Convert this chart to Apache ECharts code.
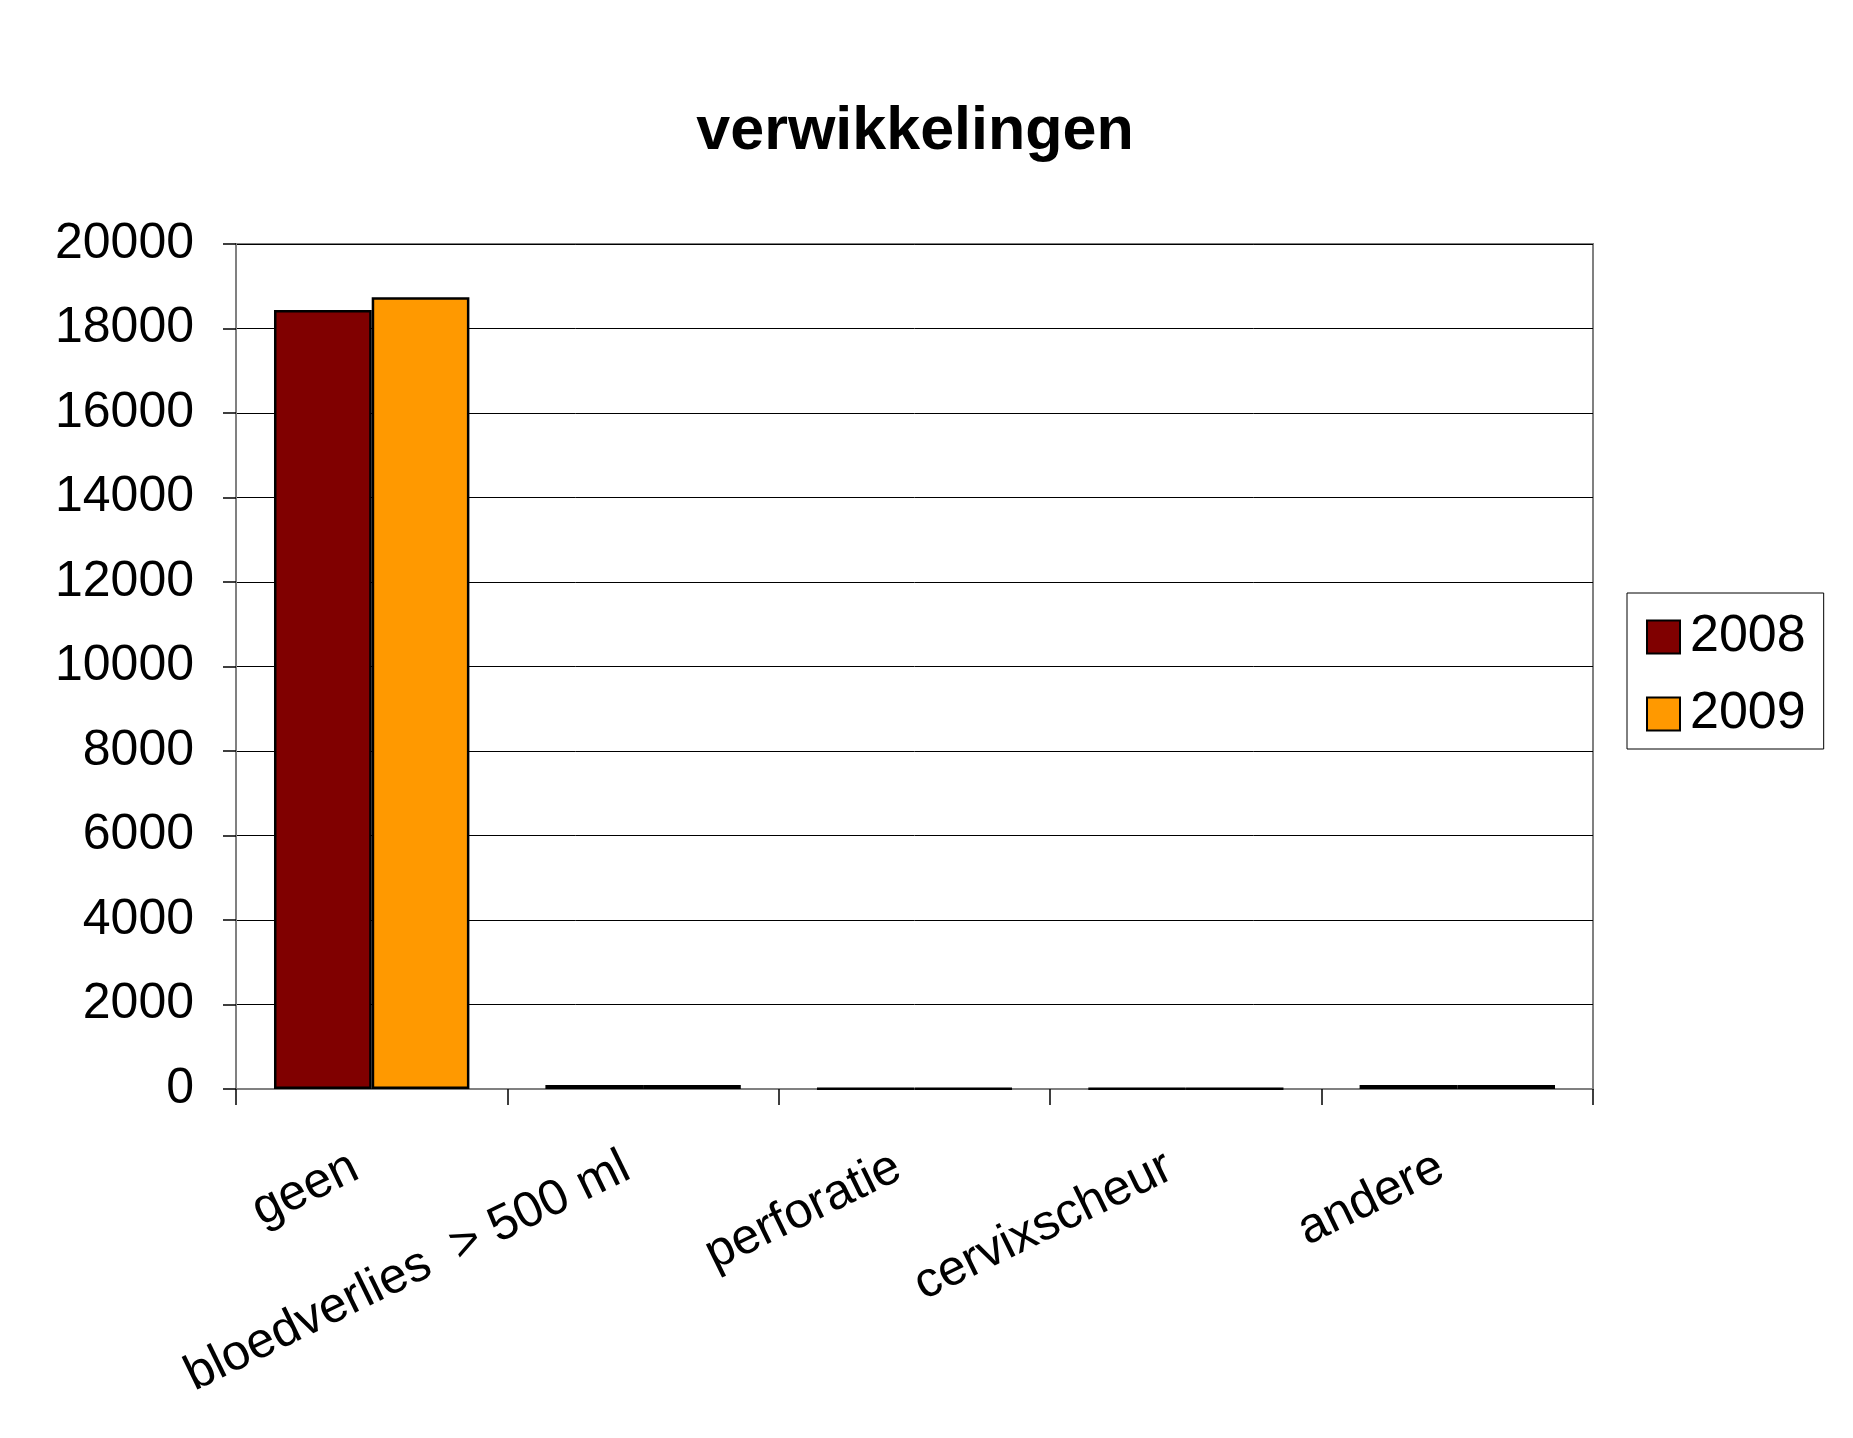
<!DOCTYPE html>
<html>
<head>
<meta charset="utf-8">
<script src="https://cdn.jsdelivr.net/npm/echarts@6/dist/echarts.min.js"></script>
<style>
html,body{margin:0;padding:0;background:#fff;}
#c{width:1853px;height:1438px;}
</style>
</head>
<body>
<div id="c"></div>
<script>
const titleText = 'verwikkelingen';
const categories = ['geen', 'bloedverlies  > 500 ml', 'perforatie', 'cervixscheur', 'andere'];
const seriesNames = ['2008', '2009'];
const values2008 = [18440, 95, 8, 6, 95];
const values2009 = [18740, 95, 8, 6, 95];
const yMin = 0, yMax = 20000, yStep = 2000;

const FONT = '"Liberation Sans", Arial, sans-serif';
const chart = echarts.init(document.getElementById('c'));
chart.setOption({
  backgroundColor: '#ffffff',
  animation: false,
  title: {
    text: titleText,
    left: 910,
    top: 97,
    textAlign: 'center',
    textStyle: { fontFamily: FONT, fontWeight: 'bold', fontSize: 61, color: '#000' }
  },
  legend: {
    orient: 'vertical',
    left: 1627,
    top: 593,
    padding: [18, 18, 9, 19],
    borderColor: '#000',
    borderWidth: 1,
    itemWidth: 33,
    itemHeight: 33,
    itemGap: 25,
    icon: 'rect',
    textStyle: { fontFamily: FONT, fontSize: 52, color: '#000', padding: [0, 0, 0, 5] },
    data: seriesNames
  },
  grid: {
    left: 236, top: 244, width: 1357, height: 845,
    show: true, borderColor: '#808080', borderWidth: 2, backgroundColor: '#fff'
  },
  xAxis: {
    type: 'category',
    data: categories,
    axisLine: { show: true, lineStyle: { color: '#808080', width: 2 } },
    axisTick: { show: true, length: 16, lineStyle: { color: '#000', width: 1.5 } },
    axisLabel: {
      rotate: 26, margin: 68, interval: 0,
      fontFamily: FONT, fontSize: 50, color: '#000',
      padding: [0, 18, 0, 0]
    },
    splitLine: { show: false }
  },
  yAxis: {
    type: 'value',
    min: yMin, max: yMax, interval: yStep,
    axisLine: { show: true, lineStyle: { color: '#808080', width: 2 } },
    axisTick: { show: true, length: 13, lineStyle: { color: '#000', width: 1.5 } },
    axisLabel: { margin: 42, fontFamily: FONT, fontSize: 50, color: '#000',
      padding: [4, 0, 0, 0],
      formatter: function (v) { return String(v); } },
    splitLine: { show: true, lineStyle: { color: '#000', width: 1 } }
  },
  series: [
    {
      name: seriesNames[0], type: 'bar', data: values2008,
      barGap: '0%', barCategoryGap: '28%',
      itemStyle: { color: '#800000', borderColor: '#000', borderWidth: 2.5 }
    },
    {
      name: seriesNames[1], type: 'bar', data: values2009,
      barGap: '0%', barCategoryGap: '28%',
      itemStyle: { color: '#FF9900', borderColor: '#000', borderWidth: 2.5 }
    }
  ]
});
</script>
</body>
</html>
